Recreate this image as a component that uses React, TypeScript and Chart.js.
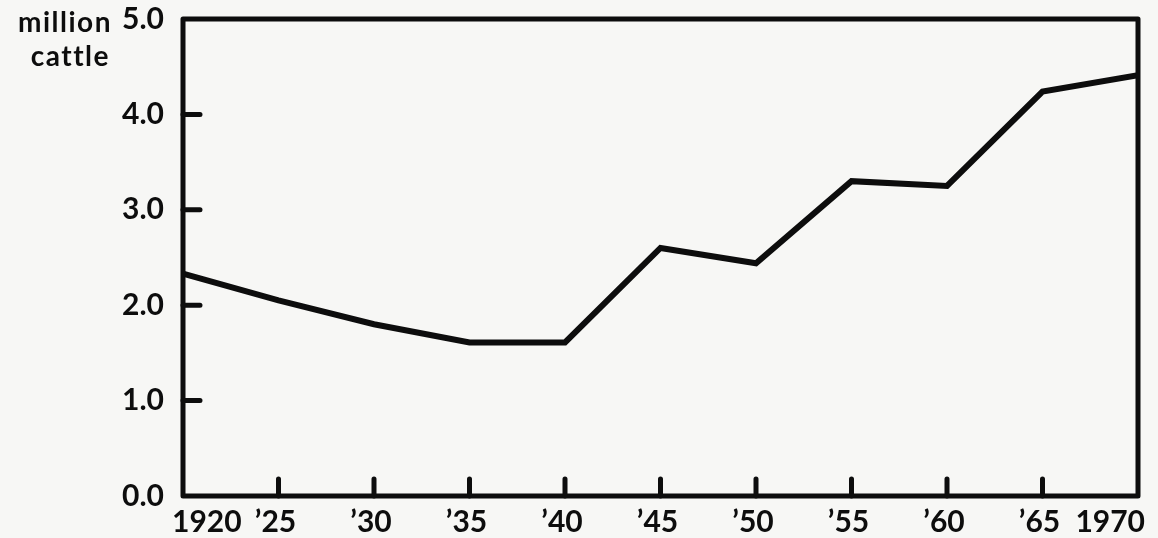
import React, { useEffect, useRef } from "react";
import { Chart, registerables } from "chart.js";

Chart.register(...registerables);

const years = [1920, 1925, 1930, 1935, 1940, 1945, 1950, 1955, 1960, 1965, 1970];
const cattleMillions = [2.33, 2.05, 1.8, 1.61, 1.61, 2.6, 2.44, 3.3, 3.25, 4.24, 4.41];
const xTickLabels = ["1920", "\u201925", "\u201930", "\u201935", "\u201940", "\u201945", "\u201950", "\u201955", "\u201960", "\u201965", "1970"];
const yTickValues = [0, 1, 2, 3, 4, 5];
const innerYTicks = [1, 2, 3, 4];
const innerXTicks = [1925, 1930, 1935, 1940, 1945, 1950, 1955, 1960, 1965];
const unitLabel = ["million", "cattle"];

const FONT = "Lato, 'DejaVu Sans', sans-serif";
const INK = "#0d0d0d";

const framePlugin = {
  id: "frame",
  afterDraw(chart: any) {
    const { ctx, chartArea } = chart;
    const xs = chart.scales.x;
    const ys = chart.scales.y;
    ctx.save();
    ctx.strokeStyle = INK;
    ctx.lineWidth = 5;
    ctx.lineJoin = "round";
    ctx.lineCap = "round";
    ctx.strokeRect(chartArea.left, chartArea.top, chartArea.right - chartArea.left, chartArea.bottom - chartArea.top);
    ctx.beginPath();
    innerYTicks.forEach((v) => {
      const py = ys.getPixelForValue(v);
      ctx.moveTo(chartArea.left, py);
      ctx.lineTo(chartArea.left + 17, py);
    });
    innerXTicks.forEach((v) => {
      const px = xs.getPixelForValue(v);
      ctx.moveTo(px, chartArea.bottom);
      ctx.lineTo(px, chartArea.bottom - 17);
    });
    ctx.stroke();

    // x tick labels (first left-ish, last right-ish, others centred)
    ctx.fillStyle = INK;
    ctx.font = `bold 30px ${FONT}`;
    ctx.textBaseline = "alphabetic";
    years.forEach((v, i) => {
      const px = xs.getPixelForValue(v);
      let x = px;
      if (i === 0) {
        ctx.textAlign = "left";
        x = px - 11;
      } else if (i === years.length - 1) {
        ctx.textAlign = "right";
        x = px + 7;
      } else {
        ctx.textAlign = "center";
        x = px - 3;
      }
      ctx.fillText(xTickLabels[i], x, chartArea.bottom + 36);
    });
    ctx.restore();
  },
};

export default function App() {
  const ref = useRef<HTMLCanvasElement | null>(null);
  useEffect(() => {
    if (!ref.current) return;
    const chart = new Chart(ref.current, {
      type: "line",
      data: {
        datasets: [
          {
            data: years.map((y, i) => ({ x: y, y: cattleMillions[i] })),
            borderColor: INK,
            borderWidth: 6,
            pointRadius: 0,
            tension: 0,
            borderJoinStyle: "miter",
            fill: false,
          },
        ],
      },
      options: {
        animation: false,
        responsive: false,
        layout: { padding: { top: 19, right: 20, left: 0, bottom: 0 } },
        plugins: { legend: { display: false }, tooltip: { enabled: false } },
        scales: {
          x: {
            type: "linear",
            min: 1920,
            max: 1970,
            grid: { display: false },
            border: { display: false },
            afterFit: (s: any) => {
              s.height = 42;
              s.paddingLeft = 0;
              s.paddingRight = 0;
            },
            afterBuildTicks: (s: any) => {
              s.ticks = years.map((v) => ({ value: v }));
            },
            ticks: { display: false },
          },
          y: {
            min: 0,
            max: 5,
            grid: { display: false },
            border: { display: false },
            afterFit: (s: any) => {
              s.width = 183;
              s.paddingTop = 0;
              s.paddingBottom = 0;
            },
            afterBuildTicks: (s: any) => {
              s.ticks = yTickValues.map((v) => ({ value: v }));
            },
            ticks: {
              padding: 11,
              color: INK,
              font: { family: FONT, size: 30, weight: "bold" },
              callback: (v: any) => Number(v).toFixed(1),
            },
          },
        },
      },
      plugins: [framePlugin],
    } as any);
    return () => chart.destroy();
  }, []);

  return (
    <div
      style={{
        position: "fixed",
        left: 0,
        top: 0,
        width: 1158,
        height: 538,
        background: "#f7f7f5",
        overflow: "hidden",
      }}
    >
      <canvas ref={ref} width={1158} height={538} style={{ position: "absolute", left: 0, top: 0 }} />
      <div
        style={{
          position: "absolute",
          right: 1158 - 112,
          top: 4,
          textAlign: "right",
          fontFamily: FONT,
          fontWeight: "bold",
          fontSize: 28,
          lineHeight: "34px",
          letterSpacing: "1.5px",
          color: INK,
        }}
      >
        <div>{unitLabel[0]}</div>
        <div style={{ marginRight: 2 }}>{unitLabel[1]}</div>
      </div>
    </div>
  );
}
